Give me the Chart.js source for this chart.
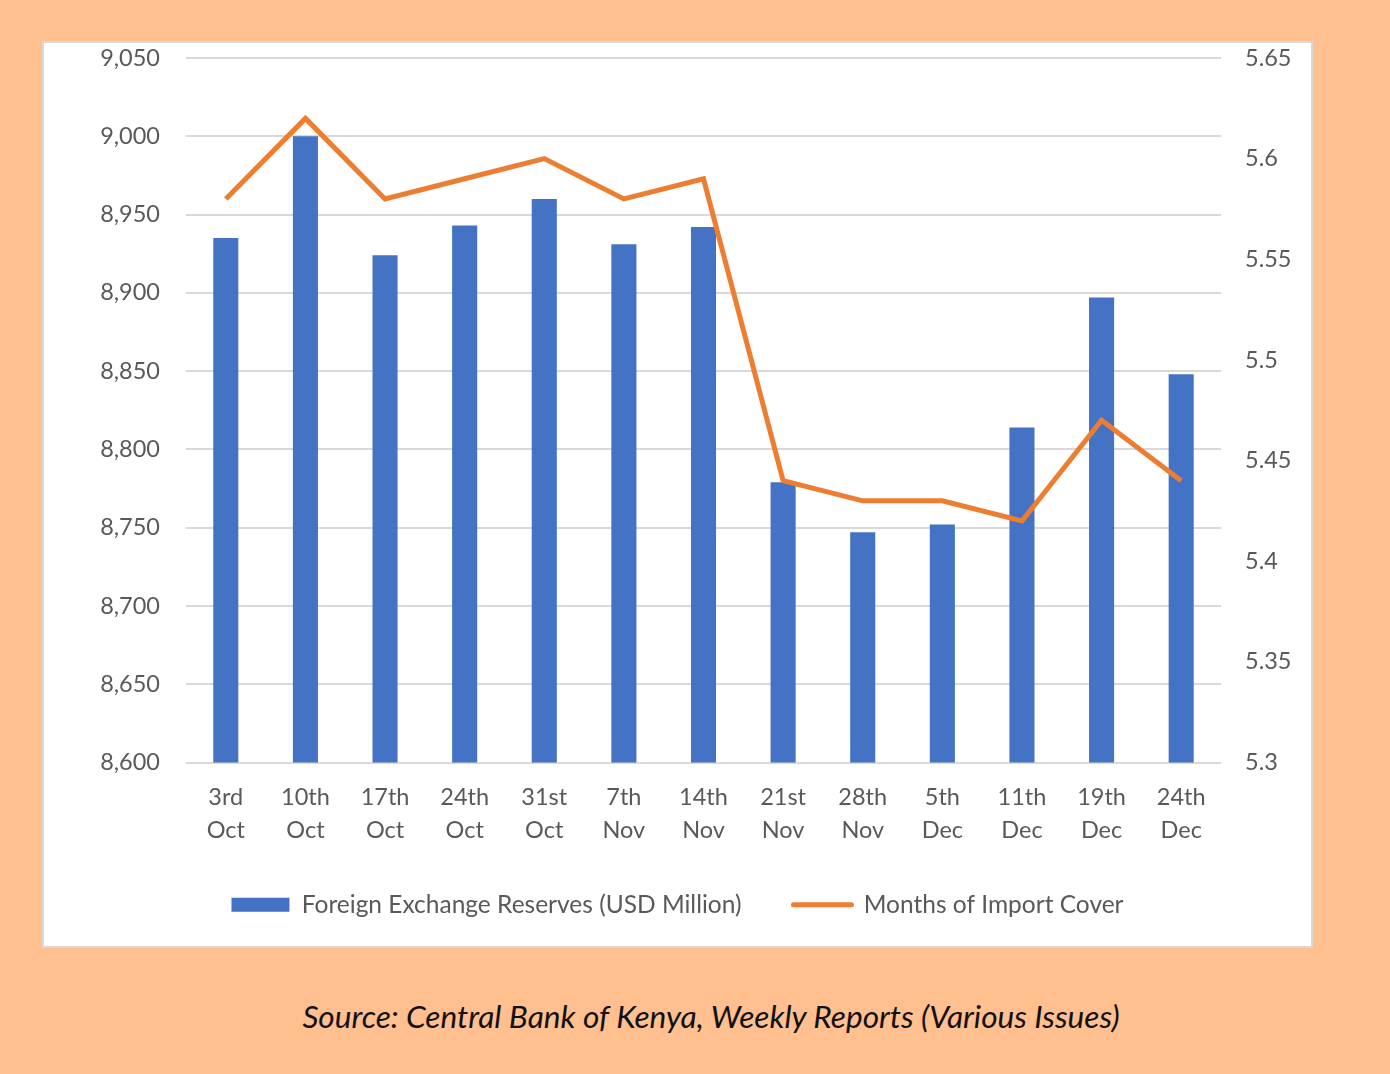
<!DOCTYPE html>
<html>
<head>
<meta charset="utf-8">
<script src="https://cdn.jsdelivr.net/npm/chart.js@4/dist/chart.umd.min.js"></script>
<style>
  html, body { margin: 0; padding: 0; }
  body { width: 1390px; height: 1074px; background: #ffbf8f; position: relative; overflow: hidden; }
  #panel {
    position: absolute; left: 42px; top: 41px; width: 1267px; height: 903px;
    background: #fff; border: 2px solid #d9d9d9;
  }
  #source {
    position: absolute; left: 0; width: 1422px; top: 997px; text-align: center;
    font-family: Lato, sans-serif; font-style: italic; font-size: 31.6px; color: #111;
  }
</style>
</head>
<body>
<div id="panel"><canvas id="myChart" width="1267" height="903"></canvas></div>
<div id="source">Source: Central Bank of Kenya, Weekly Reports (Various Issues)</div>
<script>
const categories = [['3rd', 'Oct'], ['10th', 'Oct'], ['17th', 'Oct'], ['24th', 'Oct'], ['31st', 'Oct'],
    ['7th', 'Nov'], ['14th', 'Nov'], ['21st', 'Nov'], ['28th', 'Nov'], ['5th', 'Dec'],
    ['11th', 'Dec'], ['19th', 'Dec'], ['24th', 'Dec']];
const reserves = [8935, 9000, 8924, 8943, 8960, 8931, 8942, 8779, 8747, 8752, 8814, 8897, 8848];
const importCover = [5.58, 5.62, 5.58, 5.59, 5.60, 5.58, 5.59, 5.44, 5.43, 5.43, 5.42, 5.47, 5.44];

const blue = '#4472c4';
const orange = '#ed7d31';
const textGrey = '#595959';
const tickFont = { family: 'Lato, sans-serif', size: 23.5 };

// vertical axes: fixed width, no extra label padding above/below the plot
function fixAxis(width) {
    return function (scale) {
        scale.width = width;
        scale.paddingTop = 0;
        scale.paddingBottom = 0;
    };
}

document.addEventListener("DOMContentLoaded", function () {
    const ctx = document.getElementById('myChart').getContext('2d');

    new Chart(ctx, {
        type: 'bar',
        data: {
            labels: categories,
            datasets: [{
                label: 'Foreign Exchange Reserves (USD Million)',
                data: reserves,
                backgroundColor: blue,
                barPercentage: 0.63,
                categoryPercentage: 0.5,
                yAxisID: 'y',
                order: 2
            }, {
                type: 'line',
                label: 'Months of Import Cover',
                data: importCover,
                borderColor: orange,
                backgroundColor: orange,
                borderWidth: 5,
                pointRadius: 0,
                tension: 0,
                yAxisID: 'y1',
                order: 1
            }]
        },
        options: {
            responsive: false,
            animation: false,
            layout: { padding: { top: 15, bottom: 19 } },
            plugins: {
                tooltip: { enabled: false },
                legend: {
                    position: 'bottom',
                    labels: {
                        color: textGrey,
                        font: { family: 'Lato, sans-serif', size: 24.5 },
                        usePointStyle: true,
                        pointStyleWidth: 58,
                        boxHeight: 14,
                        padding: 52,
                        generateLabels: function (chart) {
                            const items = Chart.defaults.plugins.legend.labels.generateLabels(chart);
                            items.forEach(function (item) {
                                if (item.datasetIndex === 1) {
                                    item.pointStyle = 'line';
                                    item.lineWidth = 5;
                                    item.lineCap = 'round';
                                    item.strokeStyle = orange;
                                } else {
                                    item.pointStyle = 'rect';
                                    item.lineWidth = 0;
                                }
                            });
                            return items.sort(function (a, b) { return a.datasetIndex - b.datasetIndex; });
                        }
                    }
                }
            },
            scales: {
                x: {
                    offset: true,
                    grid: { display: false, drawTicks: false },
                    border: { display: false },
                    ticks: { color: textGrey, font: { family: 'Lato, sans-serif', size: 23.5, lineHeight: 1.42 }, padding: 18, maxRotation: 0 },
                    afterFit: function (scale) { scale.height = 78; }
                },
                y: {
                    position: 'left',
                    min: 8600,
                    max: 9050,
                    grid: { color: '#d9d9d9', lineWidth: 2, drawTicks: false },
                    border: { display: false },
                    ticks: {
                        stepSize: 50,
                        color: textGrey,
                        font: tickFont,
                        padding: 26,
                        callback: function (v) { return v.toLocaleString('en-US'); }
                    },
                    afterFit: fixAxis(142)
                },
                y1: {
                    position: 'right',
                    min: 5.3,
                    max: 5.65,
                    grid: { display: false, drawTicks: false },
                    border: { display: false },
                    ticks: {
                        stepSize: 0.05,
                        color: textGrey,
                        font: tickFont,
                        padding: 24,
                        callback: function (v) { return String(Number(v.toFixed(2))); }
                    },
                    afterFit: fixAxis(90)
                }
            }
        }
    });
});
</script>
</body>
</html>
